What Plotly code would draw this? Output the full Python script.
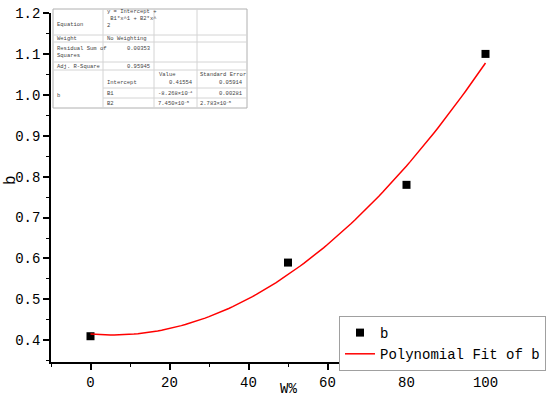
import numpy as np
import plotly.graph_objects as go

# ---- data ----
w_pct = [0, 50, 80, 100]
b_vals = [0.41, 0.59, 0.78, 1.10]
# polynomial fit coefficients reported in the chart's table
fit_intercept = 0.41554
fit_b1 = -8.268e-4
fit_b2 = 7.450e-5
x_ticks = [0, 20, 40, 60, 80, 100]
y_ticks = [0.4, 0.5, 0.6, 0.7, 0.8, 0.9, 1.0, 1.1, 1.2]

table_rows = [
    ("Equation", "y = Intercept +<br> B1*x^1 + B2*x^<br>2"),
    ("Weight", "No Weighting"),
    ("Residual Sum of<br>Squares", "0.00353"),
    ("Adj. R-Square", "0.95945"),
]
param_names = ["Intercept", "B1", "B2"]
param_values = ["0.41554", "-8.268×10<sup>-4</sup>", "7.450×10<sup>-5</sup>"]
param_errors = ["0.05914", "0.00281", "2.783×10<sup>-5</sup>"]

W, H = 550, 398
# plot area in page pixels: left 51, top 13, right 525, bottom 362
L, T = 51, 13
R, B = W - 525, H - 362
PW, PH = W - L - R, H - T - B
FONT = "Liberation Mono"

def px(x):  # page pixel x -> paper
    return (x - L) / PW

def py(y):  # page pixel y -> paper
    return (H - B - y) / PH

fit_x = np.linspace(0, 100, 101)
fit_y = fit_intercept + fit_b1 * fit_x + fit_b2 * fit_x ** 2

fig = go.Figure()
fig.add_trace(go.Scatter(x=w_pct, y=b_vals, mode="markers", name="b",
                         marker=dict(symbol="square", size=8, color="black")))
fig.add_trace(go.Scatter(x=fit_x, y=fit_y, mode="lines", name="Polynomial Fit of b",
                         line=dict(color="red", width=1.5)))

axis_common = dict(showline=True, linecolor="black", linewidth=1.5, ticks="outside",
                   ticklen=6, tickwidth=1.5, tickcolor="black", showgrid=False,
                   zeroline=False, mirror=False, automargin=False,
                   ticklabeloverflow="allow",
                   tickfont=dict(family=FONT, size=14, color="black"))
fig.update_xaxes(range=[-10, 110], tickvals=x_ticks,
                 minor=dict(dtick=10, tick0=0, ticks="outside", ticklen=3, tickwidth=1.2,
                            tickcolor="black"),
                 **axis_common)
fig.update_yaxes(range=[0.347, 1.2], tickvals=y_ticks, tickformat=".1f",
                 minor=dict(dtick=0.05, tick0=0.4, ticks="outside", ticklen=3, tickwidth=1.2,
                            tickcolor="black"),
                 **axis_common)

# axis titles
fig.add_annotation(text="W%", x=0.5, y=py(389), xref="paper", yref="paper", showarrow=False,
                   font=dict(family=FONT, size=14, color="black"),
                   xanchor="center", yanchor="middle")
fig.add_annotation(text="b", x=px(11), y=py(180), xref="paper", yref="paper", showarrow=False,
                   textangle=-90, xanchor="center", yanchor="middle",
                   font=dict(family=FONT, size=16, color="black"))

# ---- inset table ----
shapes = []
tx0, tx1, ty0, ty1 = 53, 247, 9, 108
cols = [103, 154, 197]
line_c = "#d4d4d4"
shapes.append(dict(type="rect", xref="paper", yref="paper", x0=px(tx0), x1=px(tx1),
                   y0=py(ty1), y1=py(ty0), line=dict(color="#b0b0b0", width=1),
                   fillcolor="white", layer="above"))
for yy in [35, 42, 62, 70]:
    shapes.append(dict(type="line", xref="paper", yref="paper", x0=px(tx0), x1=px(tx1),
                       y0=py(yy), y1=py(yy), line=dict(color=line_c, width=1), layer="above"))
for yy in [88, 98]:
    shapes.append(dict(type="line", xref="paper", yref="paper", x0=px(cols[0]), x1=px(tx1),
                       y0=py(yy), y1=py(yy), line=dict(color=line_c, width=1), layer="above"))
for xx in cols:
    shapes.append(dict(type="line", xref="paper", yref="paper", x0=px(xx), x1=px(xx),
                       y0=py(ty0), y1=py(ty1), line=dict(color=line_c, width=1), layer="above"))
fig.update_layout(shapes=shapes)

tfont = dict(family=FONT, size=5.5, color="#444444")

def tlabel(text, x, y, xanchor="left"):
    fig.add_annotation(text=text, x=px(x), y=py(y), xref="paper", yref="paper",
                       showarrow=False, xanchor=xanchor, yanchor="middle", font=tfont,
                       align="left")

row_y = [24, 39, 52, 66]
for (lab, val), yy in zip(table_rows, row_y):
    tlabel(lab, 55, yy)
tlabel(table_rows[0][1], 105, 19)
tlabel(table_rows[1][1], 105, 39)
tlabel(table_rows[2][1], 152, 48, "right")
tlabel(table_rows[3][1], 152, 66, "right")
tlabel("Value", 157, 74)
tlabel("Standard Error", 198, 74)
tlabel("b", 55, 96)
param_y = [82, 93, 103]
for name, val, err, yy in zip(param_names, param_values, param_errors, param_y):
    tlabel(name, 105, yy)
    if name == "Intercept":
        tlabel(val, 195, yy, "right")
    else:
        tlabel(val, 156, yy)
    if "sup" in err:
        tlabel(err, 198, yy)
    else:
        tlabel(err, 245, yy, "right")

fig.update_layout(
    width=W, height=H,
    margin=dict(l=L, r=R, t=T, b=B, autoexpand=False),
    paper_bgcolor="white", plot_bgcolor="white",
    legend=dict(x=px(339), y=py(316), xanchor="left", yanchor="top",
                bordercolor="#a0a0a0", borderwidth=1, bgcolor="white",
                font=dict(family=FONT, size=14, color="black"),
                tracegroupgap=0, itemwidth=30),
    showlegend=True,
)

fig.write_html("out.html", config={"displayModeBar": False},
               post_script="document.body.style.margin='0';")
